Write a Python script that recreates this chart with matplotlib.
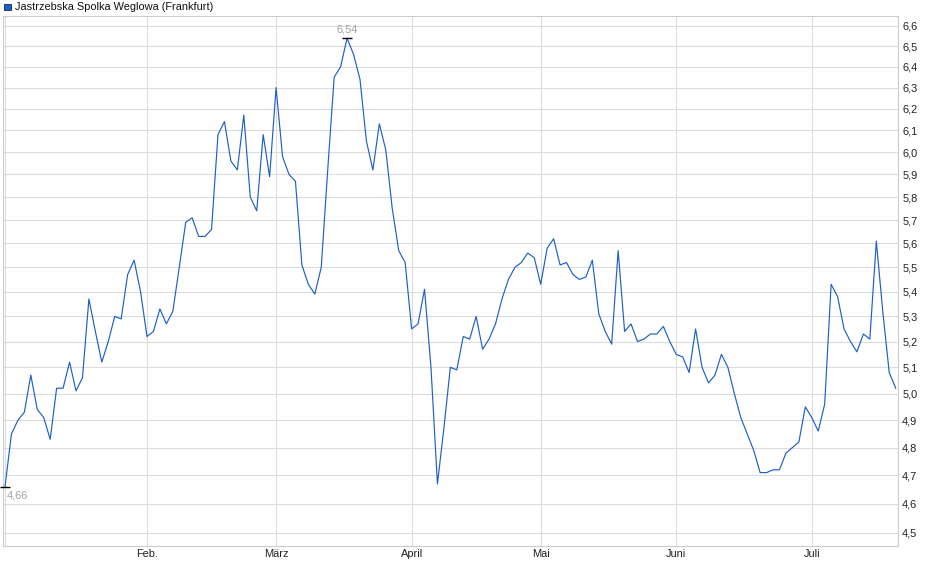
import matplotlib
matplotlib.use('Agg')
import matplotlib.pyplot as plt
from matplotlib.ticker import FixedLocator, NullLocator, FuncFormatter
from matplotlib.patches import Rectangle
import numpy as np

plt.rcParams['font.family'] = ['Liberation Sans', 'DejaVu Sans']

title_text = 'Jastrzebska Spolka Weglowa (Frankfurt)'

# daily closing prices (trading days, Jan 2 .. Jul 18)
close_prices = [
    4.66, 4.85, 4.90, 4.93, 5.07, 4.94, 4.91, 4.83, 5.02, 5.02,
    5.12, 5.01, 5.06, 5.37, 5.24, 5.12, 5.20, 5.30, 5.29, 5.47,
    5.53, 5.40,
    5.22, 5.24, 5.33, 5.27, 5.32, 5.50, 5.69, 5.71, 5.63, 5.63,
    5.66, 6.08, 6.14, 5.96, 5.92, 6.17, 5.80, 5.74, 6.08, 5.89,
    6.30, 5.98, 5.90, 5.87, 5.51, 5.43, 5.39, 5.50, 5.92, 6.35,
    6.40, 6.54, 6.46, 6.34, 6.05, 5.92, 6.13, 6.01, 5.75, 5.57,
    5.52,
    5.25, 5.27, 5.41, 5.10, 4.67, 4.87, 5.10, 5.09, 5.22, 5.21,
    5.30, 5.17, 5.21, 5.27, 5.37, 5.45, 5.50, 5.52, 5.56, 5.54,
    5.43, 5.58, 5.62, 5.51, 5.52, 5.47, 5.45, 5.46, 5.53, 5.31,
    5.24, 5.19, 5.57, 5.24, 5.27, 5.20, 5.21, 5.23, 5.23, 5.26,
    5.20,
    5.15, 5.14, 5.08, 5.25, 5.10, 5.04, 5.07, 5.15, 5.10, 5.00,
    4.91, 4.85, 4.79, 4.71, 4.71, 4.72, 4.72, 4.78, 4.80, 4.82,
    4.95,
    4.91, 4.86, 4.96, 5.43, 5.38, 5.25, 5.20, 5.16, 5.23, 5.21,
    5.61, 5.32, 5.08, 5.02,
]

# first trading day index of each month
month_labels = ['', 'Feb.', 'März', 'April', 'Mai', 'Juni', 'Juli']
month_start_idx = [0, 22, 42, 63, 83, 104, 125]

y_ticks = [4.5, 4.6, 4.7, 4.8, 4.9, 5.0, 5.1, 5.2, 5.3, 5.4, 5.5,
           5.6, 5.7, 5.8, 5.9, 6.0, 6.1, 6.2, 6.3, 6.4, 6.5, 6.6]


def de_fmt(v, digits=1):
    return f"{v:.{digits}f}".replace('.', ',')


FS = 7.9
W, H = 940, 579
fig = plt.figure(figsize=(W / 100, H / 100), dpi=100)
L, R, T, B = 3, 898, 16, 546
ax = fig.add_axes([L / W, 1 - B / H, (R - L) / W, (B - T) / H])

line_color = '#1f5fc9'
xs = np.arange(len(close_prices))
ax.plot(xs, close_prices, color=line_color, lw=0.85, zorder=3)

ax.set_yscale('log')
ax.set_ylim(4.456, 6.65)
ax.set_xlim(-0.31, 138.36)

ax.yaxis.set_major_locator(FixedLocator(y_ticks))
ax.yaxis.set_minor_locator(NullLocator())
ax.yaxis.set_major_formatter(FuncFormatter(lambda v, p: de_fmt(v)))
ax.yaxis.tick_right()
ax.tick_params(axis='y', length=0, pad=3.0, labelsize=FS, labelcolor='#222222')

ax.set_xticks(month_start_idx)
ax.set_xticklabels(month_labels)
ax.xaxis.set_minor_locator(NullLocator())
ax.tick_params(axis='x', length=0, pad=2.0, labelsize=FS, labelcolor='#222222')

ax.grid(True, color='#dcdcdc', lw=0.8, zorder=0)
ax.set_axisbelow(True)
for s in ax.spines.values():
    s.set_color('#cccccc')
    s.set_linewidth(0.8)

# min / max markers
vals = np.array(close_prices)
i_max = int(np.argmax(vals))
i_min = int(np.argmin(vals))
for i in (i_max, i_min):
    ax.plot([xs[i]], [vals[i]], marker='_', ms=6.8, mew=1.0, color='black',
            zorder=4, clip_on=False)
ax.annotate(de_fmt(vals[i_max], 2), (xs[i_max], vals[i_max]), xytext=(0, 4),
            textcoords='offset pixels', ha='center', va='bottom',
            color='#a0a0a0', fontsize=FS)
ax.annotate(de_fmt(vals[i_min], 2), (xs[i_min], vals[i_min]), xytext=(2, -4),
            textcoords='offset pixels', ha='left', va='top',
            color='#a0a0a0', fontsize=FS)

# legend
fig.patches.append(Rectangle((4 / W, 1 - 10 / H), 6.5 / W, 6.5 / H,
                             transform=fig.transFigure, facecolor=line_color,
                             edgecolor='#0a2a6a', lw=0.6))
fig.text(15 / W, 1 - 6.5 / H, title_text, ha='left', va='center',
         fontsize=FS, color='#111111')

fig.savefig('out.png', dpi=100)
